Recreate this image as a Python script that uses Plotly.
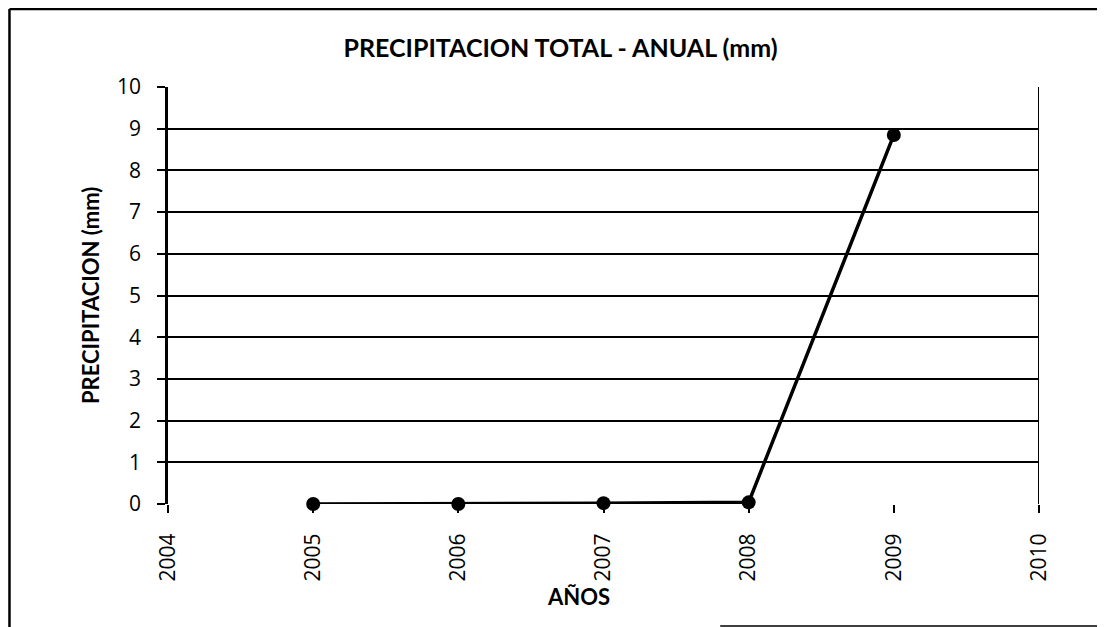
import plotly.graph_objects as go

years = [2005, 2006, 2007, 2008, 2009]
precip = [0.0, 0.0, 0.02, 0.04, 8.85]
x_ticks = [2004, 2005, 2006, 2007, 2008, 2009, 2010]
y_ticks = list(range(0, 11))

fig = go.Figure()
fig.add_trace(go.Scatter(
    x=years, y=precip, mode="lines+markers",
    line=dict(color="black", width=3.5),
    marker=dict(color="black", size=14),
    showlegend=False, cliponaxis=False,
))

tick_font = dict(family="Open Sans", size=21, color="black")

fig.update_layout(
    width=1105, height=627,
    margin=dict(l=160, r=74, t=79, b=131),
    paper_bgcolor="white", plot_bgcolor="white",
    title=dict(text="<b>PRECIPITACION TOTAL - ANUAL (mm)</b>", x=0.5, xanchor="center",
               y=0.936, yanchor="middle",
               font=dict(family="Lato", size=25, color="black")),
    xaxis=dict(range=[2004, 2010], tickvals=x_ticks, ticktext=[str(v) for v in x_ticks],
               tickangle=-90, ticks="outside", ticklen=8, tickcolor="black", tickwidth=1.5,
               ticklabelstandoff=12,
               showgrid=False, zeroline=False, showline=False,
               tickfont=tick_font),
    yaxis=dict(range=[0, 10], tickvals=y_ticks, ticks="outside", ticklen=8,
               tickcolor="black", tickwidth=1.5, ticklabelstandoff=12,
               showgrid=True, gridcolor="black", gridwidth=1.5,
               zeroline=False, showline=True, linecolor="black", linewidth=2.5,
               tickfont=tick_font),
    shapes=[
        dict(type="line", xref="x", yref="paper", x0=2010, x1=2010, y0=0, y1=1,
             line=dict(color="black", width=2)),
        dict(type="line", xref="paper", yref="paper", x0=-0.182, x1=-0.182, y0=-0.32, y1=1.187,
             line=dict(color="black", width=2.5)),
        dict(type="line", xref="paper", yref="paper", x0=-0.182, x1=1.09, y0=1.187, y1=1.187,
             line=dict(color="black", width=2.5)),
        dict(type="line", xref="paper", yref="paper", x0=0.634, x1=1.09, y0=-0.2926, y1=-0.2926,
             line=dict(color="black", width=1.5)),
    ],
    annotations=[
        dict(text="<b>AÑOS</b>", xref="paper", yref="paper", x=0.471, y=-0.223,
             showarrow=False, xanchor="center", yanchor="middle",
             font=dict(family="Lato", size=22, color="black")),
        dict(text="<b>PRECIPITACION (mm)</b>", xref="paper", yref="paper", x=-0.0896, y=0.501,
             showarrow=False, xanchor="center", yanchor="middle", textangle=-90,
             font=dict(family="Lato", size=22, color="black")),
    ],
)

fig.write_html("out.html")
